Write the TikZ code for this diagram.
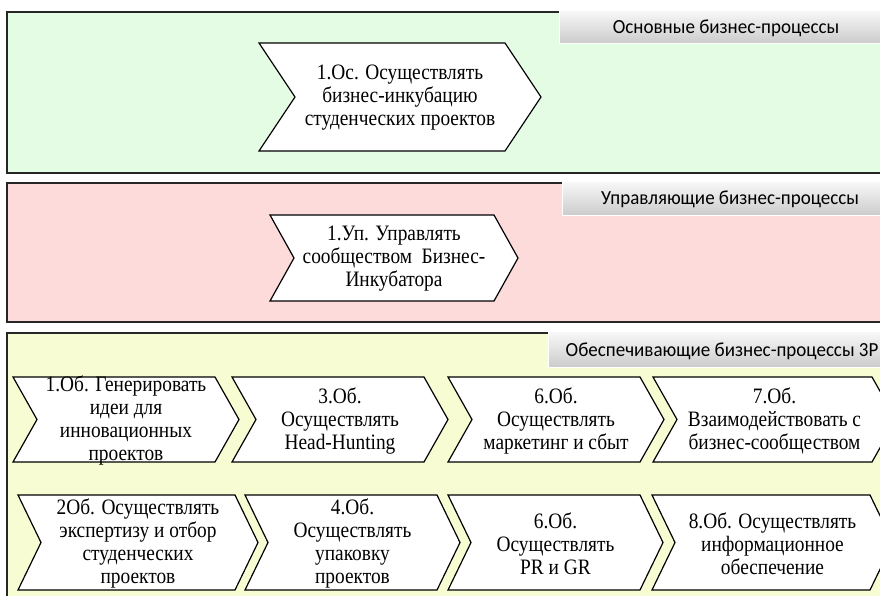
\documentclass[tikz,border=0pt]{standalone}
\usepackage{fontspec}
\setmainfont{Liberation Serif}
\newfontfamily\chevfont[FakeStretch=0.88]{Liberation Serif}
\newfontfamily\tagfont[FakeStretch=0.95]{Carlito}
\definecolor{grpanel}{RGB}{228,252,228}
\definecolor{pkpanel}{RGB}{253,219,219}
\definecolor{ylpanel}{RGB}{248,252,210}
\tikzset{
  panel/.style={draw=black!85, line width=1.8pt},
  tagbox/.style={draw=white, line width=0.8pt, top color=gray!5, bottom color=gray!40},
  tagtext/.style={font=\tagfont\fontsize{20}{22}\selectfont, inner sep=0pt},
  chevbox/.style={draw=black, line width=1.2pt, fill=white, line join=miter},
  chevtext/.style={font=\chevfont\fontsize{22}{23}\selectfont, align=center, inner sep=0pt}
}
% chevron: name, left x, top y, right x, height, point depth, text
\newcommand{\chevr}[7]{%
  \draw[chevbox] (#2,#3) -- (#4,#3) -- ({#4+#6},{#3+#5/2}) -- (#4,{#3+#5})
    -- (#2,{#3+#5}) -- ({#2+#6},{#3+#5/2}) -- cycle;
  \node[chevtext] (#1) at ({(#2+#4+#6)/2},{#3+#5/2+1}) {#7};
}
\begin{document}
\begin{tikzpicture}[x=1pt, y=-1pt]
  \useasboundingbox (0,0) rectangle (880,595);
  \clip (0,0) rectangle (880,595);

  % panels
  \draw[panel, fill=grpanel] (7,12) rectangle (900,173);
  \draw[panel, fill=pkpanel] (7,183) rectangle (900,322);
  \draw[panel, fill=ylpanel] (7,333) rectangle (900,640);

  % panel titles
  \draw[tagbox] (559,10) rectangle (884,43);
  \node[tagtext] (osn) at (726,28) {Основные бизнес-процессы};
  \draw[tagbox] (562,181) rectangle (884,215);
  \node[tagtext] (upr) at (730,199) {Управляющие бизнес-процессы};
  \draw[tagbox] (548,331) rectangle (884,367);
  \node[tagtext] (obs) at (722,351) {Обеспечивающие бизнес-процессы 3P};

  % main and control processes
  \chevr{os1}{259}{43}{505}{108}{36}{1.Ос. Осуществлять\\бизнес-инкубацию\\студенческих проектов}
  \chevr{up1}{270}{215}{494}{86}{24}{1.Уп. Управлять\\сообществом~~Бизнес-\\Инкубатора}

  % support processes, first row
  \chevr{ob1}{13}{377}{215}{85}{24}{1.Об. Генерировать\\идеи для\\инновационных\\проектов}
  \chevr{ob3}{232}{377}{424}{85}{24}{3.Об.\\Осуществлять\\Head-Hunting}
  \chevr{ob6a}{448}{377}{640}{85}{24}{6.Об.\\Осуществлять\\маркетинг и сбыт}
  \chevr{ob7}{653}{377}{872}{85}{24}{7.Об.\\Взаимодействовать с\\бизнес-сообществом}

  % support processes, second row
  \chevr{ob2}{18}{495}{235}{95}{23}{2Об. Осуществлять\\экспертизу и отбор\\студенческих\\проектов}
  \chevr{ob4}{245}{495}{437}{95}{23}{4.Об.\\Осуществлять\\упаковку\\проектов}
  \chevr{ob6b}{448}{495}{640}{95}{23}{6.Об.\\Осуществлять\\PR и GR}
  \chevr{ob8}{652}{495}{870}{95}{23}{8.Об. Осуществлять\\информационное\\обеспечение}
\end{tikzpicture}
\end{document}
